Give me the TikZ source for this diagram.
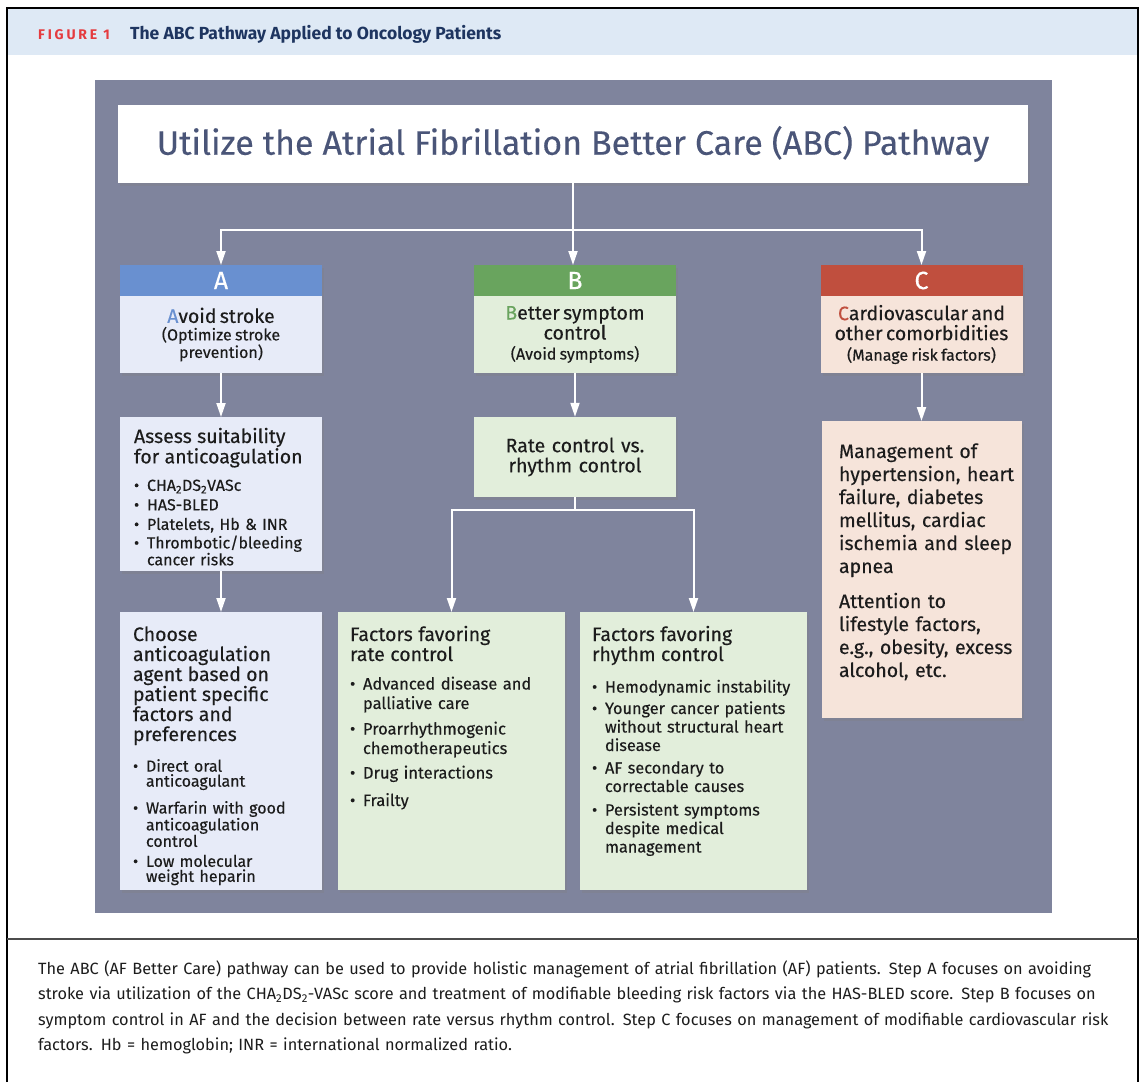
\documentclass[tikz,border=0pt]{standalone}
\usepackage{fontspec}
\setmainfont{Fira Sans}[UprightFeatures={FakeBold=0.3}]
\newfontfamily\capfont{Fira Sans}
\newfontfamily\figfont[LetterSpace=20]{Fira Sans}
\usepackage{xcolor}
\usetikzlibrary{arrows.meta, shadows, positioning}

\definecolor{panel}{HTML}{7F849D}
\definecolor{band}{HTML}{DEE9F5}
\definecolor{figred}{HTML}{E53B3F}
\definecolor{navy}{HTML}{1E3560}
\definecolor{slate}{HTML}{4A5578}
\definecolor{blueA}{HTML}{6990D0}
\definecolor{paleA}{HTML}{E7EBF8}
\definecolor{greenB}{HTML}{69A45E}
\definecolor{paleB}{HTML}{E2EEDB}
\definecolor{redC}{HTML}{C04F3E}
\definecolor{paleC}{HTML}{F6E4DA}
\definecolor{ink}{HTML}{1C1C1C}

\newcommand{\fs}[2]{\fontsize{#1}{#2}\selectfont}
\newcommand{\nl}{\hfil\break}
\newcommand{\bul}[2][4pt]{\par\vspace{#1}\hangindent=13pt\hangafter=1\noindent\makebox[13pt][l]{\textbullet}#2}

\begin{document}
\begin{tikzpicture}[x=1pt, y=-1pt]
\tikzstyle{softshadow}=[drop shadow={shadow xshift=2pt, shadow yshift=-3pt, opacity=0.3}]
\tikzstyle{head}=[softshadow, minimum width=202pt, minimum height=31pt, inner sep=0pt, outer sep=0pt, text=white, font=\fs{25}{25}]
\tikzstyle{stage}=[softshadow, minimum width=202pt, minimum height=77pt, text width=198pt, inner sep=2pt, outer sep=0pt, align=center, text=ink]
\tikzstyle{card}=[softshadow, anchor=north west, inner xsep=6pt, inner ysep=8pt, outer sep=0pt, align=left, text=ink]
\tikzstyle{wire}=[white, line width=2pt]
\tikzstyle{conn}=[wire, -{Triangle[length=14pt, width=9pt]}]
\useasboundingbox (0,0) rectangle (1142,1082);

% frame and caption band
\fill[white] (0,0) rectangle (1142,1082);
\fill[band] (8,9) rectangle (1137,55);
\draw[line width=2pt] (7,1082) -- (7,8) -- (1138,8) -- (1138,1082);
\draw[line width=1.5pt, black!70] (7,939) -- (1138,939);
\node[anchor=base west, inner sep=0pt, text=figred, font=\figfont\bfseries\fs{14}{14}] (fig) at (38,39) {FIGURE 1};
\node[anchor=base west, inner sep=0pt, text=navy, font=\bfseries\fs{17.5}{18}] (figtitle) at (130,39) {The ABC Pathway Applied to Oncology Patients};

% panel
\fill[panel] (95,80) rectangle (1052,913);

\node[softshadow, fill=white, minimum width=910pt, minimum height=78pt, inner sep=0pt, text=slate, font=\fs{34}{38}] (title) at (573,144) {Utilize the Atrial Fibrillation Better Care (ABC) Pathway};

\node[head, fill=blueA] (hA) at (221,280.5) {A};
\node[head, fill=greenB] (hB) at (575,280.5) {B};
\node[head, fill=redC] (hC) at (921.5,280.5) {C};

\node[stage, fill=paleA, below=0pt of hA] (sA) {{\fs{19.5}{19}\textcolor{blueA}{A}void stroke\par}{\fs{16}{17.5}(Optimize stroke\\prevention)\par}};
\node[stage, fill=paleB, below=0pt of hB] (sB) {{\fs{19.5}{20}\textcolor{greenB}{B}etter symptom\\control\par}{\fs{16}{20}(Avoid symptoms)\par}};
\node[stage, fill=paleC, below=0pt of hC] (sC) {{\fs{19.5}{20}\textcolor{redC}{C}ardiovascular and\\other comorbidities\par}{\fs{16}{20.5}(Manage risk factors)\par}};

% step A
\node[card, fill=paleA, text width=190pt, text height=18pt, text depth=120pt, font=\fs{16}{15.5}] (assess) at (120,417) {%
\leftskip=8pt
{\fs{19.5}{19}Assess suitability\nl for anticoagulation\par}
\bul[12pt]{CHA\textsubscript{2}DS\textsubscript{2}VASc}
\bul[4pt]{HAS-BLED}
\bul[4pt]{Platelets, Hb \& INR}
\bul[2pt]{Thrombotic/bleeding\nl cancer risks}\par};
\node[card, fill=paleA, text width=190pt, text height=21pt, text depth=241pt, font=\fs{16}{15}] (choose) at (120,612) {%
\leftskip=7pt
{\fs{19.5}{20}Choose\nl anticoagulation\nl agent based on\nl patient specific\nl factors and\nl preferences\par}
\bul[13pt]{Direct oral\nl anticoagulant}
\bul[10pt]{Warfarin with good\nl anticoagulation\nl control}
\bul[5pt]{Low molecular\nl weight heparin}\par};

% step B
\node[softshadow, fill=paleB, minimum width=202pt, minimum height=80pt, text width=198pt, inner sep=2pt, align=center, text=ink, font=\fs{19.5}{20}] (ratevs) at (575,457) {Rate control vs.\\rhythm control};
\node[card, fill=paleB, text width=215pt, text height=21pt, text depth=241pt, font=\fs{16.5}{19.5}] (ratef) at (338,612) {%
\leftskip=6pt
{\fs{19.5}{20}Factors favoring\nl rate control\par}
\bul[9pt]{Advanced disease and\nl palliative care}
\bul[6pt]{Proarrhythmogenic\nl chemotherapeutics}
\bul[5pt]{Drug interactions}
\bul[8pt]{Frailty}\par};
\node[card, fill=paleB, text width=215pt, text height=21pt, text depth=241pt, font=\fs{16.3}{18.5}] (rhythmf) at (580,612) {%
\leftskip=6pt
{\fs{19.5}{20}Factors favoring\nl rhythm control\par}
\bul[13pt]{Hemodynamic instability}
\bul[3pt]{Younger cancer patients\nl without structural heart\nl disease}
\bul[4pt]{AF secondary to\nl correctable causes}
\bul[5pt]{Persistent symptoms\nl despite medical\nl management}\par};

% step C
\node[card, fill=paleC, text width=188pt, inner ysep=10pt, text height=27pt, text depth=250pt, font=\fs{19.5}{23}] (manage) at (822,421) {%
\leftskip=11pt
Management of\nl hypertension, heart\nl failure, diabetes\nl mellitus, cardiac\nl ischemia and sleep\nl apnea\par
\vspace{12pt}
Attention to\nl lifestyle factors,\nl e.g., obesity, excess\nl alcohol, etc.\par};

% connectors
\coordinate (split) at (573,230);
\coordinate (fork) at (575,510);
\draw[wire] (title.south) -- (split);
\draw[conn] (split) -| (hA.north);
\draw[conn] (split) -| (hC.north);
\draw[conn] (split) -- (split |- hB.north);
\draw[conn] (sA) -- (assess);
\draw[conn] (assess) -- (choose);
\draw[conn] (sB) -- (ratevs);
\draw[conn] (sC.south) -- (sC.south |- manage.north);
\draw[wire] (ratevs.south) -- (fork);
\draw[conn] (fork) -| (ratef.north);
\draw[conn] (fork) -| (rhythmf.north);

% caption
\node[anchor=base west, inner sep=0pt, text width=1090pt, align=left, text=ink, font=\capfont\fs{16.3}{25.5}] (caption) at (38,974) {The ABC (AF Better Care) pathway can be used to provide holistic management of atrial fibrillation (AF) patients. Step A focuses on avoiding\\
stroke via utilization of the CHA\textsubscript{2}DS\textsubscript{2}-VASc score and treatment of modifiable bleeding risk factors via the HAS-BLED score. Step B focuses on\\
symptom control in AF and the decision between rate versus rhythm control. Step C focuses on management of modifiable cardiovascular risk\\
factors. Hb = hemoglobin; INR = international normalized ratio.};
\end{tikzpicture}
\end{document}
